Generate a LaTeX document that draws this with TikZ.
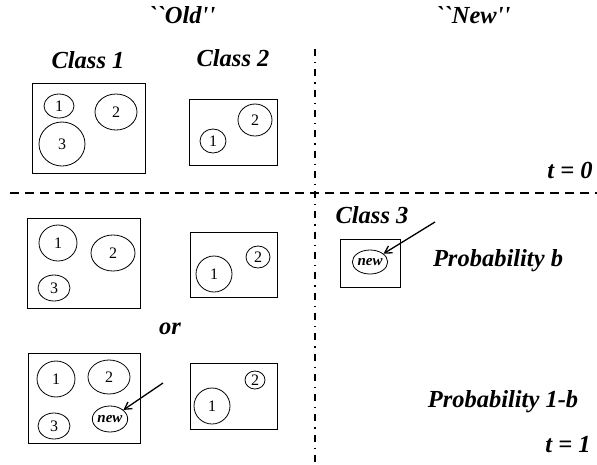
\documentclass[tikz,border=0pt]{standalone}
\usepackage{fontspec}
\setmainfont{Liberation Serif}[Ligatures=TeXOff]
\usetikzlibrary{shapes.geometric,arrows.meta}
\begin{document}
\begin{tikzpicture}[x=1pt,y=-1pt,
  lbl/.style={font=\fontsize{24.5}{28}\selectfont\bfseries\itshape, inner sep=0pt},
  box/.style={draw, line width=0.9pt, inner sep=0pt},
  ell/.style={draw, ellipse, line width=0.8pt, inner sep=0pt, font=\fontsize{16}{16}\selectfont},
  newell/.style={ell, font=\fontsize{15}{15}\selectfont\bfseries\itshape},
  arr/.style={line width=1.3pt, -{Straight Barb[length=7pt,width=8pt]}},
  hdash/.style={line width=1.5pt, dash pattern=on 9pt off 6pt},
  vdash/.style={line width=1.3pt, dash pattern=on 7pt off 6pt on 1.3pt off 6pt}
]
\useasboundingbox (0,0) rectangle (597,464);

% headings
\node[lbl] (old) at (182,15) {``Old''};
\node[lbl] (new) at (473,15) {``New''};
\node[lbl] (cl1) at (88,60) {Class 1};
\node[lbl] (cl2) at (233,58) {Class 2};
\node[lbl] (cl3) at (372,215) {Class 3};
\node[lbl] (pb) at (498,261) {Probability b};
\node[lbl] (p1b) at (503,402) {Probability 1-b};
\node[lbl] (t0) at (570,170) {t = 0};
\node[lbl] (t1) at (568,445) {t = 1};
\node[lbl] (or) at (170,329) {or};

% separators
\coordinate (hl) at (10,193);
\coordinate (hr) at (597,193);
\coordinate (vt) at (315,49);
\coordinate (vb) at (315,462);
\draw[hdash] (hl) -- (hr);
\draw[vdash] (vt) -- (vb);

% t = 0, class 1
\node[box, minimum width=113pt, minimum height=90pt] (a1) at (88.5,128) {};
\node[ell, minimum width=30pt, minimum height=24pt] (a1c1) at (59,106) {1};
\node[ell, minimum width=42pt, minimum height=36pt] (a1c2) at (116,112) {2};
\node[ell, minimum width=46pt, minimum height=44pt] (a1c3) at (62,144) {3};
% t = 0, class 2
\node[box, minimum width=88pt, minimum height=66pt] (a2) at (233,132) {};
\node[ell, minimum width=26pt, minimum height=24pt] (a2c1) at (213,141) {1};
\node[ell, minimum width=34pt, minimum height=32pt] (a2c2) at (255,120) {2};

% t = 1, first outcome
\node[box, minimum width=113pt, minimum height=90pt] (b1) at (83.5,263) {};
\node[ell, minimum width=38pt, minimum height=36pt] (b1c1) at (58,243) {1};
\node[ell, minimum width=44pt, minimum height=36pt] (b1c2) at (113,253) {2};
\node[ell, minimum width=32pt, minimum height=26pt] (b1c3) at (54,288) {3};
\node[box, minimum width=87pt, minimum height=65pt] (b2) at (233.5,264.5) {};
\node[ell, minimum width=36pt, minimum height=36pt] (b2c1) at (214,274) {1};
\node[ell, minimum width=24pt, minimum height=22pt] (b2c2) at (258,257) {2};

% t = 1, second outcome
\node[box, minimum width=112pt, minimum height=90pt] (c1) at (84,398) {};
\node[ell, minimum width=38pt, minimum height=36pt] (c1c1) at (56,379) {1};
\node[ell, minimum width=42pt, minimum height=34pt] (c1c2) at (109,377) {2};
\node[ell, minimum width=32pt, minimum height=26pt] (c1c3) at (54,426) {3};
\node[newell, minimum width=34pt, minimum height=26pt] (c1new) at (110,419) {new};
\node[box, minimum width=87pt, minimum height=66pt] (c2) at (233.5,396) {};
\node[ell, minimum width=36pt, minimum height=36pt] (c2c1) at (212,406) {1};
\node[ell, minimum width=20pt, minimum height=18pt] (c2c2) at (255,380) {2};

% class 3
\node[box, minimum width=60pt, minimum height=48pt] (n) at (370,263) {};
\node[newell, minimum width=34pt, minimum height=24pt] (nnew) at (370,262) {new};

% arrows
\coordinate (ca) at (163,383);
\coordinate (na) at (435,222);
\draw[arr] (ca) -- (c1new);
\draw[arr] (na) -- (nnew);
\end{tikzpicture}
\end{document}
